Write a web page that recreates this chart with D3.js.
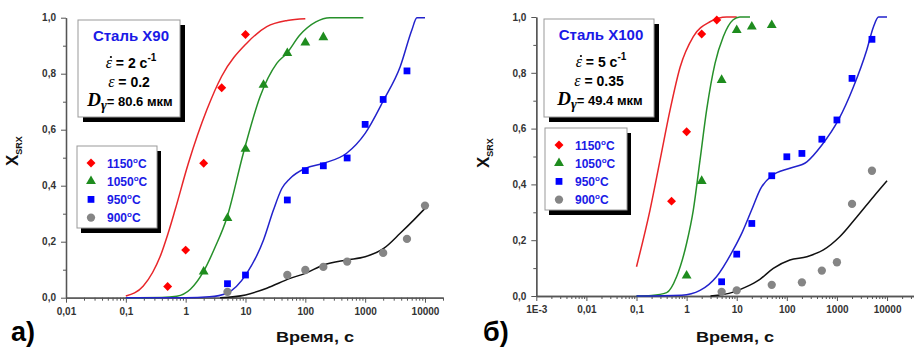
<html>
<head>
<script src="https://d3js.org/d3.v7.min.js"></script>
<style>
  body { margin: 0; background: #fff; }
  text { font-family: "Liberation Sans", Arial, sans-serif; font-weight: bold; }
</style>
</head>
<body>
<svg id="chart" width="914" height="349"></svg>
<script>
// ---------- data ----------
const tempLabels = ['1150', '1050', '950', '900']
const yTicks = [0, 0.2, 0.4, 0.6, 0.8, 1.0]
const yTickLabels = ['0,0', '0,2', '0,4', '0,6', '0,8', '1,0']
const xTicksA = [0.01, 0.1, 1, 10, 100, 1000, 10000]
const xTickLabelsA = ['0,01', '0,1', '1', '10', '100', '1000', '10000']
const xTicksB = [0.001, 0.01, 0.1, 1, 10, 100, 1000, 10000]
const xTickLabelsB = ['1E-3', '0,01', '0,1', '1', '10', '100', '1000', '10000']

// steel X90 (panel a): measured points [time, X]
const ptsA1150 = [[0.5, 0.04], [1, 0.17], [2, 0.48], [4, 0.75], [10, 0.94]]
const ptsA1050 = [[2, 0.093], [5, 0.284], [10, 0.531], [20, 0.76], [50, 0.873], [100, 0.911], [200, 0.93]]
const ptsA950 = [[5, 0.05], [10, 0.081], [50, 0.349], [100, 0.454], [200, 0.471], [500, 0.499], [1000, 0.619], [2000, 0.708], [5000, 0.81]]
const ptsA900 = [[5, 0.021], [50, 0.081], [100, 0.099], [200, 0.11], [500, 0.129], [2000, 0.16], [5000, 0.21], [10000, 0.329]]
// fitted curves
const fitA1150 = [[0.1, 0.006], [0.196, 0.042], [0.28, 0.09], [0.373, 0.146], [0.5, 0.225], [0.665, 0.313], [1.11, 0.48], [2.25, 0.67], [3.98, 0.79], [10.5, 0.909], [22.7, 0.968], [50, 0.99], [100, 0.996]]
const fitA1050 = [[0.1, 0], [0.4, 0.001], [0.71, 0.005], [1.2, 0.03], [1.98, 0.093], [3.1, 0.18], [4.86, 0.284], [9.2, 0.516], [17.5, 0.718], [33.3, 0.837], [49, 0.873], [81, 0.938], [150, 0.985], [257, 1.0], [933, 1.0]]
const fitA950 = [[0.1, 0], [1, 0], [2.5, 0.003], [4.86, 0.016], [10.5, 0.087], [20, 0.206], [29.3, 0.313], [40.5, 0.39], [55, 0.425], [100, 0.462], [200, 0.48], [490, 0.516], [1000, 0.587], [2040, 0.706], [3850, 0.825], [6030, 0.956], [7330, 1.0], [10000, 1.0]]
const fitA900 = [[3.76, 0], [10, 0.01], [22.7, 0.034], [55.7, 0.069], [100, 0.087], [200, 0.117], [490, 0.135], [1000, 0.146], [2040, 0.176], [3850, 0.23], [6460, 0.277], [10000, 0.319]]

// steel X100 (panel б)
const ptsB1150 = [[0.5, 0.34], [1, 0.589], [2, 0.939], [4, 0.989]]
const ptsB1050 = [[1, 0.073], [2, 0.412], [5, 0.774], [10, 0.953], [20, 0.965], [50, 0.971]]
const ptsB950 = [[5, 0.051], [10, 0.15], [20, 0.26], [50, 0.431], [100, 0.499], [200, 0.511], [500, 0.562], [1000, 0.631], [2000, 0.78], [5000, 0.92]]
const ptsB900 = [[5, 0.015], [10, 0.02], [50, 0.04], [200, 0.049], [500, 0.091], [1000, 0.121], [2000, 0.33], [5000, 0.449]]
const fitB1150 = [[0.1, 0.105], [0.186, 0.308], [0.295, 0.487], [0.468, 0.667], [0.741, 0.82], [1.36, 0.93], [2.93, 0.983], [6.3, 1.0], [10, 1.0]]
const fitB1050 = [[0.1, 0], [0.2, 0.002], [0.4, 0.012], [0.63, 0.069], [1.0, 0.189], [1.36, 0.308], [1.85, 0.487], [2.51, 0.667], [3.69, 0.834], [5.41, 0.93], [8.51, 0.99], [11.6, 1.0], [18.4, 1.0]]
const fitB950 = [[0.1, 0], [0.8, 0.003], [1.85, 0.02], [3.98, 0.07], [8.5, 0.165], [13, 0.23], [20, 0.31], [30, 0.385], [50, 0.431], [115, 0.458], [251, 0.481], [501, 0.541], [1070, 0.631], [2140, 0.75], [3940, 0.882], [5370, 0.965], [6760, 1.0], [10000, 1.0]]
const fitB900 = [[3, 0], [8.5, 0.014], [15, 0.032], [29, 0.06], [53.7, 0.099], [115, 0.129], [251, 0.141], [537, 0.165], [1150, 0.213], [2510, 0.284], [5370, 0.356], [10000, 0.413]]

// ---------- drawing ----------
const svg = d3.select('svg#chart')
svg.append('rect').attr('width', 914).attr('height', 349).attr('fill', '#fff')

const markColors = ['#ff0000', '#1e8c1e', '#0000ff', '#858585']
const lineColors = ['#e8262a', '#26902a', '#2222cc', '#111111']
const symbols = [
  {type: d3.symbolSquare, size: 40, rot: 45},
  {type: d3.symbolTriangle, size: 42, rot: 0},
  {type: d3.symbolSquare, size: 46, rot: 0},
  {type: d3.symbolCircle, size: 54, rot: 0}
]

function isDecade(v) {
  const l = Math.log10(v)
  return Math.abs(l - Math.round(l)) < 1e-6
}

function drawPanel(p) {
  const g = svg.append('g')
  const x = d3.scaleLog().domain(p.xDomain).range([p.left, p.right])
  const y = d3.scaleLinear().domain([0, 1]).range([p.bottom, p.top])

  // x axis: minor + major
  const minor = x.ticks().filter(v => !isDecade(v))
  g.append('g').attr('transform', `translate(0,${p.bottom})`)
    .call(d3.axisBottom(x).tickValues(minor).tickSize(3).tickSizeOuter(0).tickFormat(''))
  g.append('g').attr('transform', `translate(0,${p.bottom})`)
    .call(d3.axisBottom(x).tickValues(p.xTicks).tickSize(5).tickSizeOuter(0).tickPadding(5)
      .tickFormat((d, i) => p.xLabels[i]))

  // y axis
  g.append('g').attr('transform', `translate(${p.left},0)`)
    .call(d3.axisLeft(y).tickValues([0.1, 0.3, 0.5, 0.7, 0.9]).tickSize(3).tickSizeOuter(0).tickFormat(''))
  g.append('g').attr('transform', `translate(${p.left},0)`)
    .call(d3.axisLeft(y).tickValues(yTicks).tickSize(5).tickSizeOuter(0).tickPadding(5)
      .tickFormat((d, i) => yTickLabels[i]))

  g.selectAll('.domain').attr('stroke', '#555').attr('stroke-width', 1.3)
  g.selectAll('.tick line').attr('stroke', '#555').attr('stroke-width', 1)
  g.selectAll('.tick text').attr('font-size', 10).attr('fill', '#333')
    .attr('font-family', '"Liberation Sans", Arial, sans-serif').attr('font-weight', 'bold')

  // fitted curves
  const line = d3.line().x(d => x(d[0])).y(d => y(d[1])).curve(d3.curveMonotoneX)
  p.fits.forEach((f, i) => {
    g.append('path').datum(f).attr('d', line)
      .attr('fill', 'none').attr('stroke', lineColors[i]).attr('stroke-width', 1.5)
  })

  // measured points
  p.points.forEach((pts, i) => {
    const s = symbols[i]
    g.append('g').selectAll('path').data(pts).join('path')
      .attr('d', d3.symbol().type(s.type).size(s.size))
      .attr('transform', d => `translate(${x(d[0])},${y(d[1])}) rotate(${s.rot})`)
      .attr('fill', markColors[i])
  })

  // y label X_SRX
  const yl = g.append('text')
    .attr('transform', `translate(${p.yLabelX},${p.yLabelY}) rotate(-90)`)
    .attr('font-size', 17).attr('fill', '#111')
  yl.append('tspan').text('X')
  yl.append('tspan').attr('font-size', 9).attr('dy', 4).text('SRX')

  // x label
  g.append('text').attr('x', p.xLabelX).attr('y', 342).attr('text-anchor', 'middle')
    .attr('font-size', 14).attr('fill', '#111').attr('textLength', 78)
    .attr('lengthAdjust', 'spacingAndGlyphs').text('Время, с')

  // panel letter
  g.append('text').attr('x', p.letterX).attr('y', 341).attr('font-size', 27)
    .attr('fill', '#000').text(p.letter)

  // note box with shadow
  const nb = p.noteBox
  g.append('rect').attr('x', nb.x + 5).attr('y', nb.y + 5).attr('width', nb.w).attr('height', nb.h).attr('fill', '#000')
  g.append('rect').attr('x', nb.x).attr('y', nb.y).attr('width', nb.w).attr('height', nb.h)
    .attr('fill', '#fff').attr('stroke', '#999').attr('stroke-width', 1)
  const cx = nb.x + nb.w / 2
  g.append('text').attr('x', cx + 2).attr('y', nb.y + 21).attr('text-anchor', 'middle')
    .attr('font-size', 15).attr('fill', '#1a1ae6').text(p.steel)

  const serif = '"Liberation Serif", "DejaVu Serif", serif'
  const t1 = g.append('text').attr('x', cx + 2).attr('y', nb.y + 48).attr('text-anchor', 'middle')
    .attr('font-size', 14).attr('fill', '#000')
  const eps = t1.append('tspan').attr('font-family', serif).attr('font-style', 'italic').attr('font-weight', 'normal')
    .attr('font-size', 16).text('ε')
  t1.append('tspan').text('  = ' + p.rate + ' c')
  t1.append('tspan').attr('font-size', 10).attr('dy', -7).text('-1')
  // dot above the strain-rate epsilon
  const bb = eps.node().getBBox()
  g.append('circle').attr('cx', bb.x + bb.width * 0.75).attr('cy', bb.y + 3).attr('r', 1.1).attr('fill', '#000')

  const t2 = g.append('text').attr('x', cx).attr('y', nb.y + 67).attr('text-anchor', 'middle')
    .attr('font-size', 14).attr('fill', '#000')
  t2.append('tspan').attr('font-family', serif).attr('font-style', 'italic').attr('font-weight', 'normal')
    .attr('font-size', 16).text('ε')
  t2.append('tspan').text(' = ' + p.strain)

  const t3 = g.append('text').attr('x', cx + 1).attr('y', nb.y + 86).attr('text-anchor', 'middle')
    .attr('font-size', 13).attr('fill', '#000')
  t3.append('tspan').attr('font-family', serif).attr('font-style', 'italic').attr('font-size', 19).text('D')
  t3.append('tspan').attr('font-family', serif).attr('font-style', 'italic').attr('font-size', 14)
    .attr('dy', 4).text('γ')
  t3.append('tspan').attr('dy', -4).text('= ' + p.grain + ' мкм')

  // legend box with shadow
  const lb = p.legendBox
  g.append('rect').attr('x', lb.x + 4).attr('y', lb.y + 5).attr('width', lb.w).attr('height', lb.h).attr('fill', '#000')
  g.append('rect').attr('x', lb.x).attr('y', lb.y).attr('width', lb.w).attr('height', lb.h)
    .attr('fill', '#fff').attr('stroke', '#999').attr('stroke-width', 1)
  tempLabels.forEach((lab, i) => {
    const yy = lb.y + 17 + i * 18.2
    const s = symbols[i]
    g.append('path').attr('d', d3.symbol().type(s.type).size(s.size))
      .attr('transform', `translate(${lb.x + 14},${yy}) rotate(${s.rot})`).attr('fill', markColors[i])
    const lt = g.append('text').attr('x', lb.x + 30).attr('y', yy + 4.5)
      .attr('font-size', 12).attr('fill', '#1a1ae6')
    lt.append('tspan').text(lab)
    lt.append('tspan').attr('font-size', 8).attr('dy', -5).text('o')
    lt.append('tspan').attr('dy', 5).text('C')
  })
}

drawPanel({
  left: 66, right: 443, top: 17.7, bottom: 297.7,
  xDomain: [0.01, 20000], xTicks: xTicksA, xLabels: xTickLabelsA,
  fits: [fitA1150, fitA1050, fitA950, fitA900],
  points: [ptsA1150, ptsA1050, ptsA950, ptsA900],
  yLabelX: 18, yLabelY: 166, xLabelX: 315, letter: 'а)', letterX: 11,
  noteBox: {x: 78, y: 20, w: 102, h: 97}, legendBox: {x: 77, y: 146, w: 80, h: 82},
  steel: 'Сталь X90', rate: '2', strain: '0.2', grain: '80.6'
})

drawPanel({
  left: 536.3, right: 914.3, top: 17, bottom: 296,
  xDomain: [0.001, 35000], xTicks: xTicksB, xLabels: xTickLabelsB,
  fits: [fitB1150, fitB1050, fitB950, fitB900],
  points: [ptsB1150, ptsB1050, ptsB950, ptsB900],
  yLabelX: 489, yLabelY: 168, xLabelX: 735, letter: 'б)', letterX: 483,
  noteBox: {x: 544, y: 19, w: 110, h: 98}, legendBox: {x: 545, y: 128, w: 82, h: 82},
  steel: 'Сталь X100', rate: '5', strain: '0.35', grain: '49.4'
})
</script>
</body>
</html>
